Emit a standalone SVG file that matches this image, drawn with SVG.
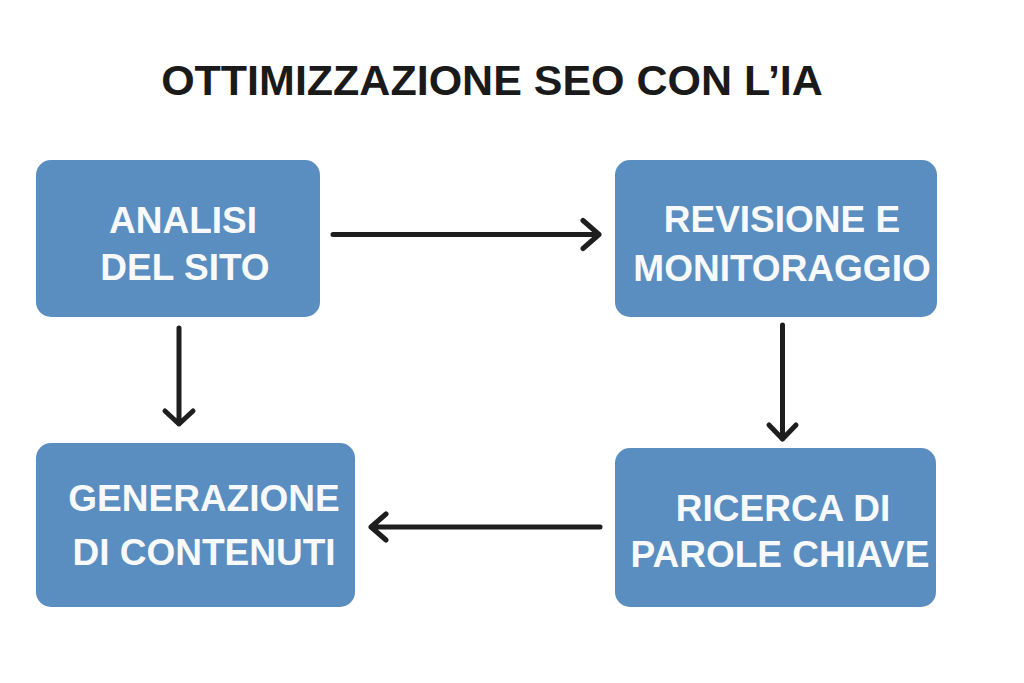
<svg xmlns="http://www.w3.org/2000/svg" width="1024" height="683" viewBox="0 0 1024 683">
<style>
.box{fill:#5A8EC0;}
.lbl{font-family:"Liberation Sans",Arial,sans-serif;font-weight:bold;font-size:37px;fill:#F7F9FB;text-anchor:middle;}
.title{font-family:"Liberation Sans",Arial,sans-serif;font-weight:bold;font-size:43px;fill:#1A1A1A;text-anchor:middle;}
.conn{stroke:#1E1E1E;stroke-width:5;fill:none;stroke-linecap:round;stroke-linejoin:round;}
</style>
<rect width="1024" height="683" fill="#FFFFFF"/>
<text class="title" x="492" y="95">OTTIMIZZAZIONE SEO CON L’IA</text>
<g id="node-analisi">
<rect class="box" x="36" y="160" width="284" height="157" rx="15"/>
<text class="lbl" x="183" y="233">ANALISI</text>
<text class="lbl" x="185" y="280">DEL SITO</text>
</g>
<g id="node-revisione">
<rect class="box" x="615" y="160" width="322" height="157" rx="15"/>
<text class="lbl" x="782" y="232">REVISIONE E</text>
<text class="lbl" x="782" y="281">MONITORAGGIO</text>
</g>
<g id="node-generazione">
<rect class="box" x="36" y="443" width="319" height="164" rx="15"/>
<text class="lbl" x="204" y="511">GENERAZIONE</text>
<text class="lbl" x="204" y="565">DI CONTENUTI</text>
</g>
<g id="node-ricerca">
<rect class="box" x="615" y="448" width="321" height="159" rx="15"/>
<text class="lbl" x="783" y="521">RICERCA DI</text>
<text class="lbl" x="780" y="567">PAROLE CHIAVE</text>
</g>
<g id="connectors">
<path class="conn" d="M333,234.5 H599 M583,220.5 L599,234.5 L583,248.5"/>
<path class="conn" d="M179,328 V424 M165,411 L179,424 L193,411"/>
<path class="conn" d="M782.5,325 V439 M769,425 L782.5,439 L796,425"/>
<path class="conn" d="M600,527 H371 M386,514 L371,527 L386,540"/>
</g>
</svg>
